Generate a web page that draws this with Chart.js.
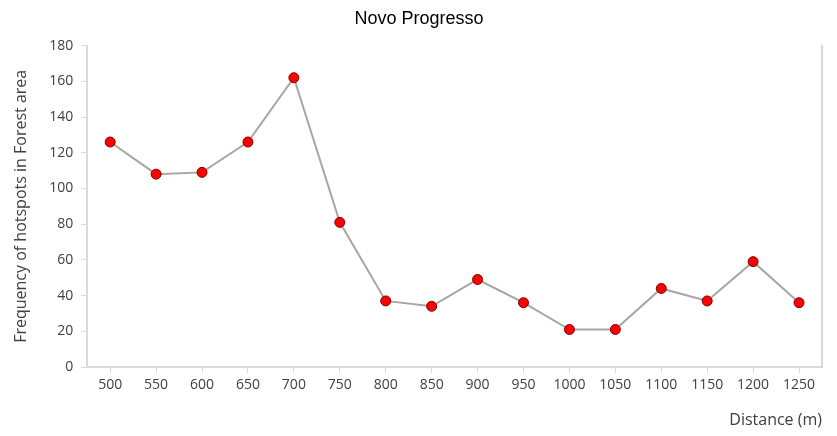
<!DOCTYPE html>
<html>
<head>
<meta charset="utf-8">
<script src="https://cdn.jsdelivr.net/npm/chart.js@4"></script>
<style>
  html, body { margin: 0; padding: 0; background: #fff; }
  #wrap { width: 837px; height: 436px; }
</style>
</head>
<body>
<div id="wrap"><canvas id="hotspotChart"></canvas></div>
<script>
const distances = ["500", "550", "600", "650", "700", "750", "800", "850", "900", "950", "1000", "1050", "1100", "1150", "1200", "1250"];
const hotspots = [126, 108, 109, 126, 162, 81, 37, 34, 49, 36, 21, 21, 44, 37, 59, 36];
const yTicks = [0, 20, 40, 60, 80, 100, 120, 140, 160, 180];

const tickFont = { family: "'Open Sans', 'Noto Sans', sans-serif", size: 14 };
const titleFont = { family: "'Open Sans', 'Noto Sans', sans-serif", size: 16 };
const axisColor = "#d9d9d9";
const textColor = "#404040";

const ctx = document.getElementById("hotspotChart");
new Chart(ctx, {
  type: "line",
  data: {
    labels: distances,
    datasets: [{
      label: "Hotspots",
      data: hotspots,
      borderColor: "#a6a6a6",
      borderWidth: 2,
      pointBackgroundColor: "#ff0000",
      pointBorderColor: "#7f0000",
      pointBorderWidth: 1,
      pointRadius: 5,
      tension: 0
    }]
  },
  options: {
    responsive: true,
    maintainAspectRatio: false,
    animation: false,
    layout: { padding: { left: 8, right: 7, top: 8, bottom: 2 } },
    plugins: {
      legend: { display: false },
      tooltip: { enabled: false },
      title: {
        display: true,
        text: "Novo Progresso",
        color: "#000",
        font: { family: "'Liberation Sans', Arial, sans-serif", size: 18, weight: "normal" },
        padding: { top: 0, bottom: 16 }
      }
    },
    scales: {
      x: {
        offset: true,
        grid: { display: true, drawOnChartArea: false, color: axisColor, tickLength: 6 },
        border: { color: axisColor, width: 2 },
        ticks: { color: textColor, font: tickFont, padding: 4, maxRotation: 0 },
        title: {
          display: true,
          text: "Distance (m)",
          align: "end",
          color: textColor,
          font: titleFont,
          padding: { top: 13 }
        }
      },
      y: {
        min: 0,
        max: 180,
        afterBuildTicks: axis => { axis.ticks = yTicks.map(v => ({ value: v })); },
        grid: { display: true, drawOnChartArea: false, color: axisColor, tickLength: 6 },
        border: { color: axisColor, width: 2 },
        ticks: { color: textColor, font: tickFont, padding: 8 },
        title: {
          display: true,
          text: "Frequency of hotspots in Forest area",
          color: textColor,
          font: titleFont,
          padding: { bottom: 10 }
        }
      },
      y2: {
        position: "right",
        min: 0,
        max: 180,
        grid: { display: false },
        border: { color: axisColor, width: 2 },
        ticks: { display: false }
      }
    }
  }
});
</script>
</body>
</html>
